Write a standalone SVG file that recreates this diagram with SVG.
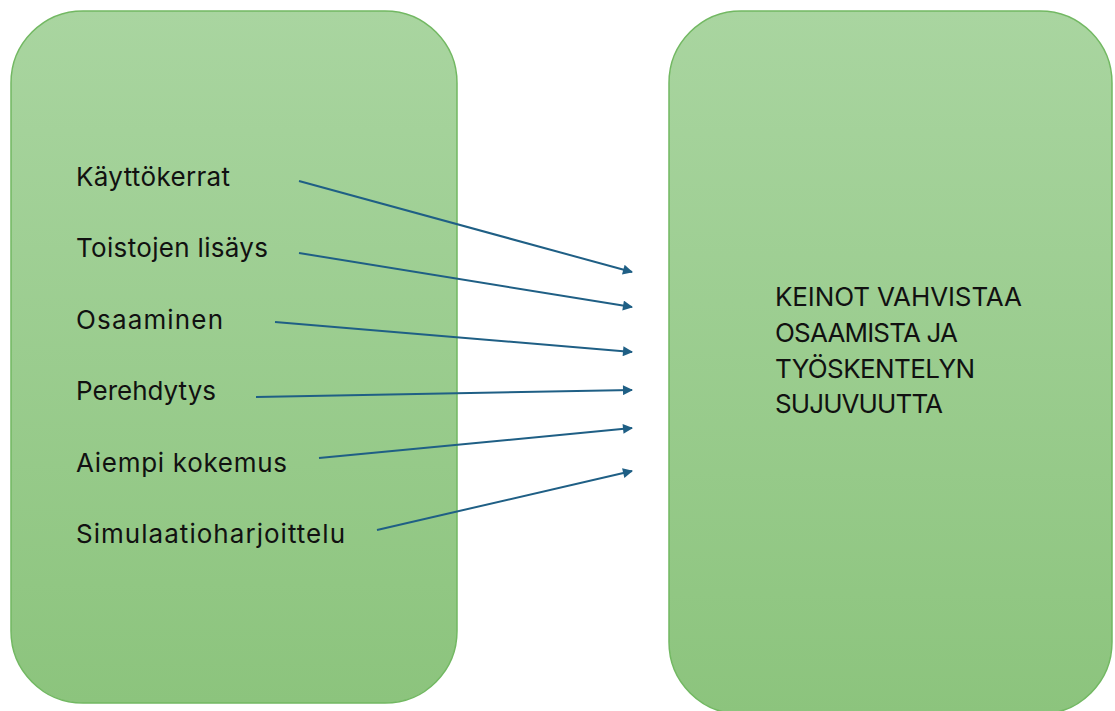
<svg xmlns="http://www.w3.org/2000/svg" width="1115" height="711" viewBox="0 0 1115 711">
  <defs>
    <linearGradient id="fillGreen" x1="0" y1="0" x2="0" y2="1">
      <stop offset="0" stop-color="#a9d5a0"/>
      <stop offset="1" stop-color="#8cc47d"/>
    </linearGradient>
    <marker id="arrowHead" viewBox="0 0 10 10" refX="9" refY="5" markerWidth="5.5" markerHeight="5" markerUnits="strokeWidth" orient="auto">
      <path d="M0,0 L10,5 L0,10 z" fill="#1f5f85"/>
    </marker>
  </defs>
  <style>
    .box { fill: url(#fillGreen); stroke: #72b862; stroke-width: 1.5; }
    .label { font-family: Inter, "Liberation Sans", sans-serif; font-size: 26px; fill: #111; }
    .conn { stroke: #1f5f85; stroke-width: 2; fill: none; marker-end: url(#arrowHead); }
  </style>
  <rect width="1115" height="711" fill="#ffffff"/>

  <g id="factors">
    <rect class="box" x="11" y="11" width="446" height="692" rx="72" ry="72"/>
    <text class="label" x="76" y="186" textLength="154">Käyttökerrat</text>
    <text class="label" x="76" y="257" textLength="192">Toistojen lisäys</text>
    <text class="label" x="76" y="329" textLength="147">Osaaminen</text>
    <text class="label" x="76" y="400" textLength="140">Perehdytys</text>
    <text class="label" x="76" y="472" textLength="211">Aiempi kokemus</text>
    <text class="label" x="76" y="543" textLength="269">Simulaatioharjoittelu</text>
  </g>

  <g id="goal">
    <rect class="box" x="669" y="11" width="443" height="703" rx="72" ry="72"/>
    <text class="label" x="775" y="306" textLength="247">KEINOT VAHVISTAA</text>
    <text class="label" x="775" y="342" textLength="183">OSAAMISTA JA</text>
    <text class="label" x="775" y="378" textLength="200">TYÖSKENTELYN</text>
    <text class="label" x="775" y="413" textLength="168">SUJUVUUTTA</text>
  </g>

  <g id="connectors">
    <line class="conn" x1="299" y1="181" x2="632" y2="272"/>
    <line class="conn" x1="299" y1="253" x2="632" y2="307"/>
    <line class="conn" x1="275" y1="322" x2="632" y2="352"/>
    <line class="conn" x1="256" y1="397" x2="632" y2="390"/>
    <line class="conn" x1="319" y1="458" x2="632" y2="428"/>
    <line class="conn" x1="377" y1="530" x2="632" y2="471"/>
  </g>
</svg>
